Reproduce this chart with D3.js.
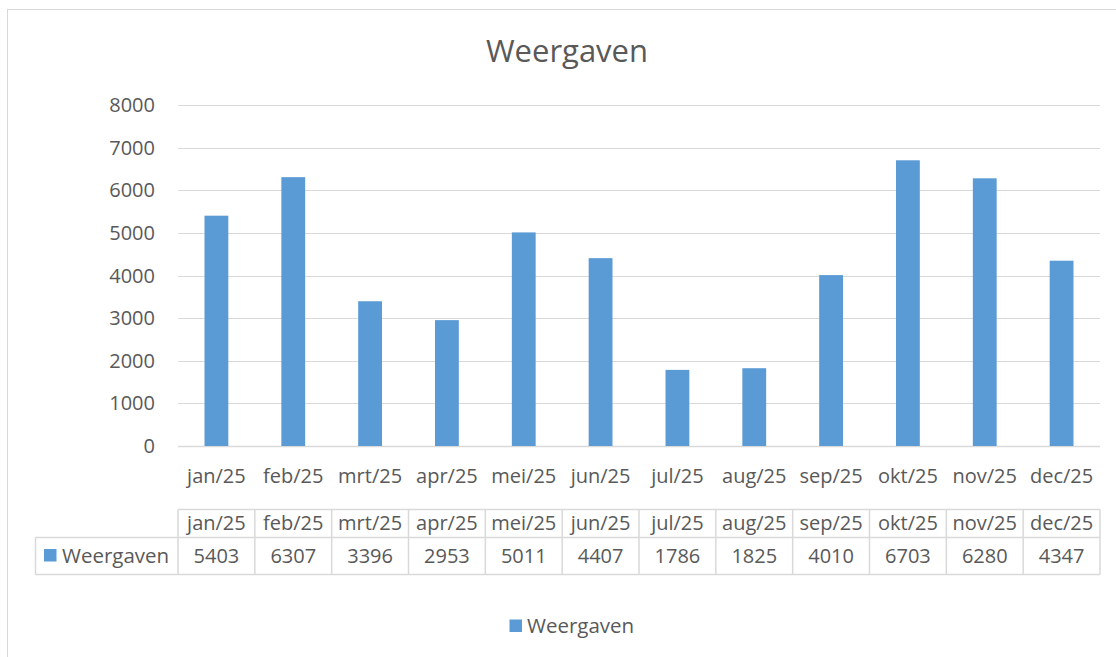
<!DOCTYPE html>
<html>
<head>
<meta charset="utf-8">
<script src="https://cdn.jsdelivr.net/npm/d3@7"></script>
<style>
    body { margin: 0; background: #fff; }
    svg { display: block; }
    text { font-family: "Open Sans", sans-serif; fill: #595959; }
</style>
</head>
<body>
<svg id="chart"></svg>
<script>
var months = ['jan/25', 'feb/25', 'mrt/25', 'apr/25', 'mei/25', 'jun/25',
    'jul/25', 'aug/25', 'sep/25', 'okt/25', 'nov/25', 'dec/25'];
var views = [5403, 6307, 3396, 2953, 5011, 4407, 1786, 1825, 4010, 6703, 6280, 4347];
var yTicks = [0, 1000, 2000, 3000, 4000, 5000, 6000, 7000, 8000];
var seriesName = 'Weergaven';

var width = 1116,
    height = 657,
    margin = { left: 178, right: 16, top: 105, bottom: 211 };

var svg = d3.select('#chart')
    .attr('width', width)
    .attr('height', height);

// chart frame (goes past the right and bottom edge)
svg.append('rect')
    .attr('x', 7.5)
    .attr('y', 9.5)
    .attr('width', 1130)
    .attr('height', 700)
    .attr('fill', '#fff')
    .attr('stroke', '#d9d9d9')
    .attr('stroke-width', 1);

var x = d3.scaleBand()
    .domain(months)
    .range([margin.left, width - margin.right])
    .padding(0);

var y = d3.scaleLinear()
    .domain([0, 8000])
    .range([height - margin.bottom, margin.top]);

// title
svg.append('text')
    .attr('x', 567)
    .attr('y', 62)
    .attr('text-anchor', 'middle')
    .style('font-size', '31px')
    .text(seriesName);

// gridlines
svg.append('g').selectAll('line')
    .data(yTicks)
    .enter().append('line')
    .attr('x1', margin.left)
    .attr('x2', width - margin.right)
    .attr('y1', function(d) { return Math.round(y(d)) + 0.5; })
    .attr('y2', function(d) { return Math.round(y(d)) + 0.5; })
    .attr('stroke', '#d9d9d9')
    .attr('stroke-width', function(d) { return d === 0 ? 1.5 : 1; });

// y labels
svg.append('g').selectAll('text')
    .data(yTicks)
    .enter().append('text')
    .attr('x', 155)
    .attr('y', function(d) { return y(d) + 7; })
    .attr('text-anchor', 'end')
    .style('font-size', '20px')
    .text(function(d) { return d; });

// bars
var barW = x.bandwidth() * 0.31;
svg.append('g').selectAll('rect')
    .data(views)
    .enter().append('rect')
    .attr('x', function(d, i) { return x(months[i]) + x.bandwidth() / 2 - barW / 2; })
    .attr('y', function(d) { return y(d); })
    .attr('width', barW)
    .attr('height', function(d) { return y(0) - y(d); })
    .attr('fill', '#5b9bd5');

// x labels
svg.append('g').selectAll('text')
    .data(months)
    .enter().append('text')
    .attr('x', function(d) { return x(d) + x.bandwidth() / 2; })
    .attr('y', 483)
    .attr('text-anchor', 'middle')
    .style('font-size', '20px')
    .text(function(d) { return d; });

// data table
var tTop = 509.5, tMid = 537.5, tBot = 574.5, tLeft = 35.5;
var tbl = svg.append('g')
    .attr('stroke', '#d9d9d9')
    .attr('stroke-width', 1.5);

tbl.append('line')
    .attr('x1', margin.left).attr('x2', width - margin.right)
    .attr('y1', tTop).attr('y2', tTop);
tbl.append('line')
    .attr('x1', tLeft).attr('x2', width - margin.right)
    .attr('y1', tMid).attr('y2', tMid);
tbl.append('line')
    .attr('x1', tLeft).attr('x2', width - margin.right)
    .attr('y1', tBot).attr('y2', tBot);
tbl.append('line')
    .attr('x1', tLeft).attr('x2', tLeft)
    .attr('y1', tMid).attr('y2', tBot);
tbl.selectAll('line.col')
    .data(months.concat(['end']))
    .enter().append('line')
    .attr('class', 'col')
    .attr('x1', function(d, i) { return i < months.length ? x(d) : width - margin.right; })
    .attr('x2', function(d, i) { return i < months.length ? x(d) : width - margin.right; })
    .attr('y1', tTop)
    .attr('y2', tBot);

svg.append('g').selectAll('text')
    .data(months)
    .enter().append('text')
    .attr('x', function(d) { return x(d) + x.bandwidth() / 2; })
    .attr('y', 530)
    .attr('text-anchor', 'middle')
    .style('font-size', '20px')
    .text(function(d) { return d; });

svg.append('g').selectAll('text')
    .data(views)
    .enter().append('text')
    .attr('x', function(d, i) { return x(months[i]) + x.bandwidth() / 2; })
    .attr('y', 563)
    .attr('text-anchor', 'middle')
    .style('font-size', '20px')
    .text(function(d) { return d; });

svg.append('rect')
    .attr('x', 44).attr('y', 549)
    .attr('width', 12.5).attr('height', 12.5)
    .attr('fill', '#5b9bd5');
svg.append('text')
    .attr('x', 62)
    .attr('y', 563)
    .style('font-size', '20.5px')
    .text(seriesName);

// legend
svg.append('rect')
    .attr('x', 509.5).attr('y', 619.5)
    .attr('width', 12.5).attr('height', 12.5)
    .attr('fill', '#5b9bd5');
svg.append('text')
    .attr('x', 527)
    .attr('y', 633)
    .style('font-size', '20.5px')
    .text(seriesName);
</script>
</body>
</html>
